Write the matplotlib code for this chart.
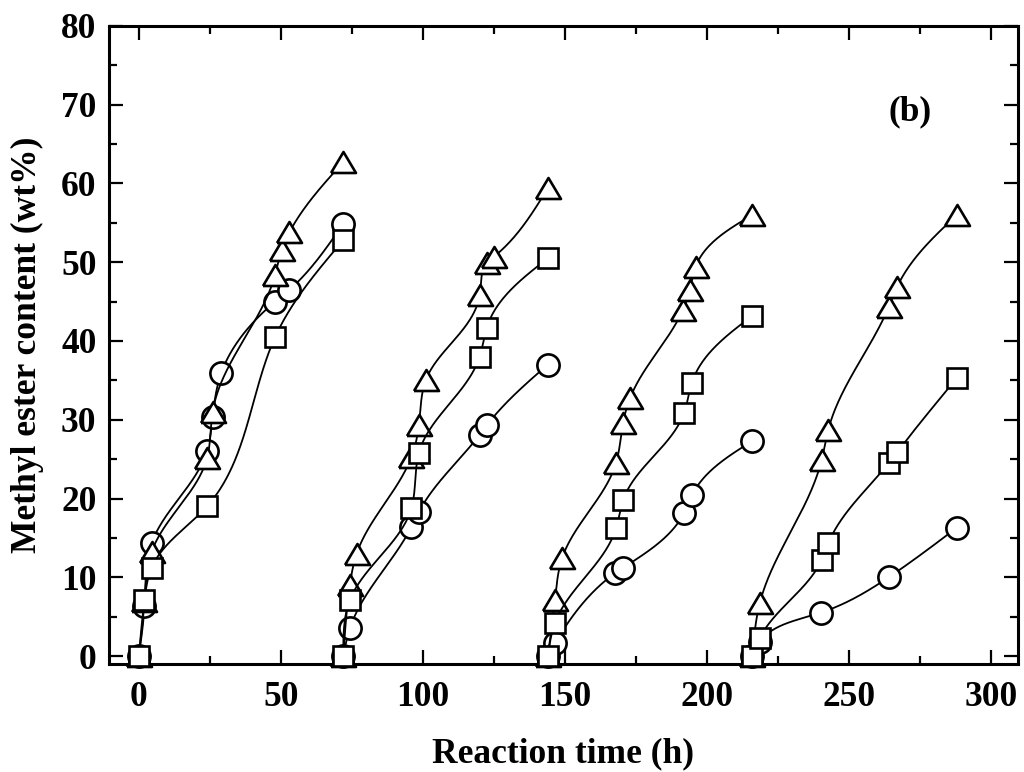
import numpy as np
import matplotlib
matplotlib.use("Agg")
import matplotlib.pyplot as plt
from matplotlib.ticker import MultipleLocator

# Data: one list per regeneration cycle
circle_t = [[0, 2, 4.5, 24, 26, 29, 48, 53, 72],
            [72, 74.3, 96, 98.6, 120, 122.5, 144],
            [144, 146.5, 167.6, 170.5, 192, 194.7, 216],
            [216, 218.6, 240, 264, 288]]
circle_y = [[0, 6.3, 14.3, 26.0, 30.4, 35.9, 45.0, 46.5, 54.9],
            [0, 3.5, 16.4, 18.3, 28.1, 29.3, 37.0],
            [0, 1.6, 10.5, 11.2, 18.2, 20.4, 27.3],
            [0, 1.8, 5.5, 10.0, 16.3]]

square_t = [[0, 2, 4.5, 24, 48, 72],
            [72, 74.3, 96, 98.6, 120, 122.5, 144],
            [144, 146.5, 168, 170.5, 192, 194.7, 216],
            [216, 218.6, 240.4, 242.7, 264, 267, 288]]
square_y = [[0, 7.1, 11.2, 19.0, 40.5, 52.8],
            [0, 7.1, 18.8, 25.8, 38.0, 41.7, 50.5],
            [0, 4.2, 16.2, 19.8, 30.9, 34.7, 43.2],
            [0, 2.3, 12.2, 14.3, 24.5, 25.9, 35.3]]

triangle_t = [[0, 2, 4.5, 24, 26, 48, 50.3, 53, 72],
              [72, 74.3, 76.7, 96, 98.6, 101, 120, 122.5, 125, 144],
              [144, 146.5, 149, 168, 170.5, 173, 191.5, 194, 196, 216],
              [216, 218.6, 240.4, 242.7, 264, 267, 288]]
triangle_y = [[0, 7.0, 13.2, 25.1, 31.0, 48.4, 51.6, 53.8, 62.7],
              [0, 9.0, 13.0, 25.3, 29.3, 35.0, 45.8, 49.9, 50.7, 59.4],
              [0, 7.1, 12.4, 24.5, 29.6, 32.8, 43.9, 46.5, 49.4, 56.0],
              [0, 6.7, 24.9, 28.7, 44.3, 46.9, 56.0]]

plt.rcParams["font.family"] = ["Liberation Serif", "DejaVu Serif"]
plt.rcParams["font.weight"] = "bold"
plt.rcParams["axes.labelweight"] = "bold"
FS = 25.5


def natural_spline(s, v, s_new):
    n = len(s)
    h = np.diff(s)
    A = np.zeros((n, n))
    b = np.zeros(n)
    A[0, 0] = A[-1, -1] = 1
    for i in range(1, n - 1):
        A[i, i - 1] = h[i - 1]
        A[i, i] = 2 * (h[i - 1] + h[i])
        A[i, i + 1] = h[i]
        b[i] = 6 * ((v[i + 1] - v[i]) / h[i] - (v[i] - v[i - 1]) / h[i - 1])
    M = np.linalg.solve(A, b)
    out = np.empty_like(s_new)
    idx = np.clip(np.searchsorted(s, s_new) - 1, 0, n - 2)
    for k, (x, i) in enumerate(zip(s_new, idx)):
        a, bb = s[i], s[i + 1]
        hh = bb - a
        out[k] = (M[i] * (bb - x) ** 3 / (6 * hh) + M[i + 1] * (x - a) ** 3 / (6 * hh)
                  + (v[i] / hh - M[i] * hh / 6) * (bb - x)
                  + (v[i + 1] / hh - M[i + 1] * hh / 6) * (x - a))
    return out


def smooth_curve(ax, t, y):
    # parametric spline in screen space, chord-length parameterised
    pts = ax.transData.transform(np.column_stack([t, y]))
    d = np.hypot(*np.diff(pts, axis=0).T)
    s = np.concatenate([[0], np.cumsum(d)])
    s_new = np.linspace(0, s[-1], 400)
    px = natural_spline(s, pts[:, 0], s_new)
    py = natural_spline(s, pts[:, 1], s_new)
    return ax.transData.inverted().transform(np.column_stack([px, py]))


fig = plt.figure(figsize=(10.24, 7.72), dpi=100)
ax = fig.add_axes([0.1064, 0.140, 0.8877, 0.8264])
ax.set_xlim(-10.5, 309.5)
ax.set_ylim(-1, 80)

tri = [(-1, -0.84), (1, -0.84), (0, 0.84), (-1, -0.84)]
series = [
    (circle_t, circle_y, "o", 16, 3),
    (triangle_t, triangle_y, tri, 18, 4),
    (square_t, square_y, "s", 15, 5),
]
for ts, ys, mk, ms, z in series:
    for t, y in zip(ts, ys):
        c = smooth_curve(ax, t, y)
        ax.plot(c[:, 0], c[:, 1], color="black", lw=1.3, zorder=z)
        ax.plot(t, y, linestyle="none", marker=mk, markersize=ms,
                markerfacecolor="white", markeredgecolor="black",
                markeredgewidth=1.9, zorder=z + 0.5, clip_on=False)

ax.xaxis.set_major_locator(MultipleLocator(50))
ax.xaxis.set_minor_locator(MultipleLocator(25))
ax.yaxis.set_major_locator(MultipleLocator(10))
ax.yaxis.set_minor_locator(MultipleLocator(5))
ax.tick_params(which="both", direction="in", top=True, right=True,
               labelsize=FS, width=1.6)
ax.tick_params(which="major", length=10)
ax.tick_params(axis="x", which="major", pad=12)
ax.tick_params(axis="y", which="major", pad=9)
ax.tick_params(which="minor", length=6)
for sp in ax.spines.values():
    sp.set_linewidth(2.2)

ax.set_xlabel("Reaction time (h)", fontsize=FS, fontweight="bold", labelpad=17)
ax.set_ylabel("Methyl ester content (wt%)", fontsize=FS, fontweight="bold", labelpad=12)
ax.text(271.5, 69.1, "(b)", fontsize=FS, fontweight="bold", ha="center", va="center")

fig.savefig("out.png", dpi=100)
